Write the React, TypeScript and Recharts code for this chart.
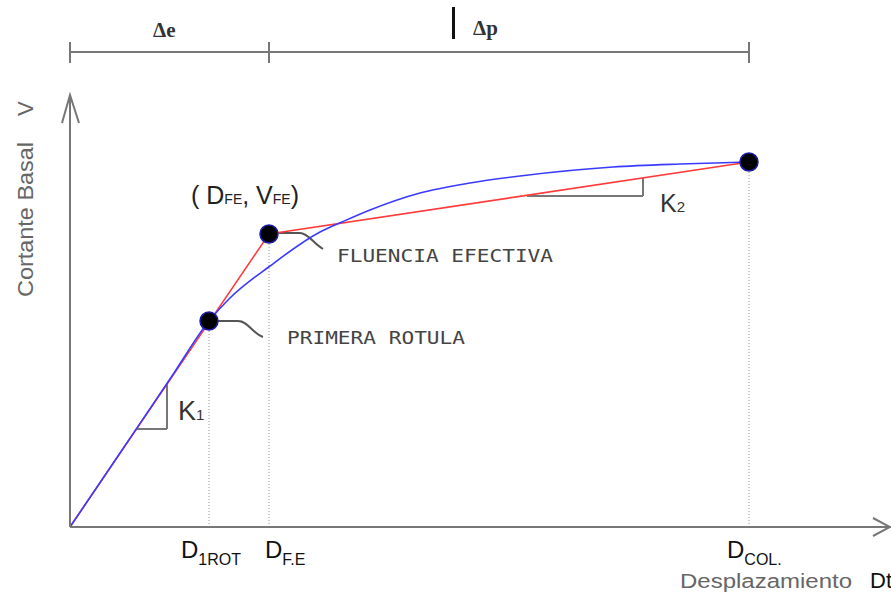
import { ComposedChart, Line, Scatter, XAxis, YAxis, ReferenceLine, Customized } from 'recharts';

// displacement / base shear, in drawing units (origin bottom-left)
const capacityDisp = [0, 50, 100, 139, 160, 200, 250, 272, 300, 350, 400, 450, 543, 610, 679];
const capacityShear = [0, 74, 148, 206, 229, 261, 295, 305, 317, 334, 344, 351, 360, 363, 365];

const bilinearDisp = [0, 199, 679];
const bilinearShear = [0, 293, 365];

const keyDisp = [139, 199, 679];
const keyShear = [206, 293, 365];
const keyLabels = ['1ROT', 'F.E', 'COL.'];

const k1Disp = [67, 97];
const k1Shear = [98, 144];
const k2Disp = [457, 573];
const k2Shear = [331, 349];

const capacity = capacityDisp.map((d, i) => ({ d, v: capacityShear[i] }));
const bilinear = bilinearDisp.map((d, i) => ({ d, v: bilinearShear[i] }));
const keyPoints = keyDisp.map((d, i) => ({ d, v: keyShear[i], label: keyLabels[i] }));

const W = 891;
const H = 598;
const SANS = '"Liberation Sans", Arial, sans-serif';
const CAD = '"DejaVu Sans Mono", monospace';

const tickDx: Record<string, number> = { '1ROT': -28, 'F.E': -4, 'COL.': -22 };

function DispTick(props: any) {
  const { x, payload } = props;
  const sub = keyLabels[keyDisp.indexOf(payload.value)] ?? '';
  return (
    <text x={x + (tickDx[sub] ?? 0)} y={558} fontFamily={SANS} fill="#111">
      <tspan fontSize={24}>D</tspan>
      <tspan fontSize={16} dy={7}>{sub}</tspan>
    </text>
  );
}

function Dot(props: any) {
  const { cx, cy } = props;
  return <circle cx={cx} cy={cy} r={9} fill="#000" stroke="#1c1ca8" strokeWidth={1.5} />;
}

function Overlay() {
  const grey = '#777';
  return (
    <g>
      {/* dimension line above the plot */}
      <path d="M70 52 H749 M70 42 V63 M269 42 V63 M749 42 V63" stroke={grey} strokeWidth={2} fill="none" />
      <text x={153} y={37} fontFamily='"Liberation Serif", serif' fontWeight="bold" fontSize={21} fill="#333">Δe</text>
      <rect x={452} y={7} width={3} height={32} fill="#111" />
      <text x={473} y={35} fontFamily='"Liberation Serif", serif' fontWeight="bold" fontSize={21} fill="#333">Δp</text>

      {/* axis arrowheads */}
      <path d="M62 123 L70 95 L79 123" stroke={grey} strokeWidth={2} fill="none" />
      <path d="M873 518 L890 527 L873 536" stroke={grey} strokeWidth={2} fill="none" />

      {/* axis titles */}
      <text x={33} y={297} transform="rotate(-90 33 297)" fontFamily={SANS} fontSize={22} fill="#666" textLength={155} lengthAdjust="spacingAndGlyphs">Cortante Basal</text>
      <text x={33} y={116} transform="rotate(-90 33 116)" fontFamily={SANS} fontSize={22} fill="#666">V</text>
      <text x={680} y={588} fontFamily={SANS} fontSize={20} fill="#666" textLength={172} lengthAdjust="spacingAndGlyphs">Desplazamiento</text>
      <text x={870} y={588} fontFamily={SANS} fontSize={22} fill="#111">Dt</text>

      {/* leaders and notes */}
      <path d="M218 321 H238 C248 321 252 333 263 337" stroke="#555" strokeWidth={2} fill="none" />
      <path d="M279 233 H300 C308 233 314 244 323 249" stroke="#555" strokeWidth={2} fill="none" />
      <text x={287} y={344} fontFamily={CAD} fontSize={18} fill="#444" textLength={178} lengthAdjust="spacingAndGlyphs">PRIMERA ROTULA</text>
      <text x={337} y={262} fontFamily={CAD} fontSize={18} fill="#444" textLength={216} lengthAdjust="spacingAndGlyphs">FLUENCIA EFECTIVA</text>

      <text x={191} y={204} fontFamily={SANS} fill="#222">
        <tspan fontSize={25}>( D</tspan>
        <tspan fontSize={14}>FE</tspan>
        <tspan fontSize={25}>, V</tspan>
        <tspan fontSize={14}>FE</tspan>
        <tspan fontSize={25}>)</tspan>
      </text>

      <text x={178} y={420} fontFamily={SANS} fill="#333">
        <tspan fontSize={27}>K</tspan>
        <tspan fontSize={15}>1</tspan>
      </text>
      <text x={660} y={212} fontFamily={SANS} fill="#333">
        <tspan fontSize={25}>K</tspan>
        <tspan fontSize={15}>2</tspan>
      </text>
    </g>
  );
}

export default function App() {
  return (
    <div style={{ position: 'absolute', left: 0, top: 0, width: W, height: H, background: '#fff' }}>
      <ComposedChart width={W} height={H} margin={{ top: 95, right: 0, bottom: 0, left: 0 }}>
        <XAxis
          type="number"
          dataKey="d"
          domain={[0, 821]}
          ticks={keyDisp}
          interval={0}
          tick={<DispTick />}
          tickLine={false}
          axisLine={{ stroke: '#777', strokeWidth: 2 }}
          height={71}
          allowDataOverflow
        />
        <YAxis
          type="number"
          dataKey="v"
          domain={[0, 432]}
          tick={false}
          tickLine={false}
          axisLine={{ stroke: '#777', strokeWidth: 2 }}
          width={70}
          allowDataOverflow
        />

        {keyPoints.map((p) => (
          <ReferenceLine
            key={p.label}
            segment={[{ x: p.d, y: 0 }, { x: p.d, y: p.v }]}
            stroke="#999"
            strokeDasharray="1 2"
          />
        ))}
        <ReferenceLine segment={[{ x: k1Disp[0], y: k1Shear[0] }, { x: k1Disp[1], y: k1Shear[0] }]} stroke="#777" strokeWidth={2} />
        <ReferenceLine segment={[{ x: k1Disp[1], y: k1Shear[0] }, { x: k1Disp[1], y: k1Shear[1] }]} stroke="#777" strokeWidth={2} />
        <ReferenceLine segment={[{ x: k2Disp[0], y: k2Shear[0] }, { x: k2Disp[1], y: k2Shear[0] }]} stroke="#777" strokeWidth={2} />
        <ReferenceLine segment={[{ x: k2Disp[1], y: k2Shear[0] }, { x: k2Disp[1], y: k2Shear[1] }]} stroke="#777" strokeWidth={2} />

        <Line data={bilinear} dataKey="v" type="linear" stroke="#ff3b3b" strokeWidth={1.6} dot={false} isAnimationActive={false} />
        <Line data={capacity} dataKey="v" type="monotone" stroke="#3b3bff" strokeWidth={1.6} dot={false} isAnimationActive={false} />
        <Scatter data={keyPoints} dataKey="v" shape={<Dot />} isAnimationActive={false} />
        <Customized component={Overlay} />
      </ComposedChart>
    </div>
  );
}
